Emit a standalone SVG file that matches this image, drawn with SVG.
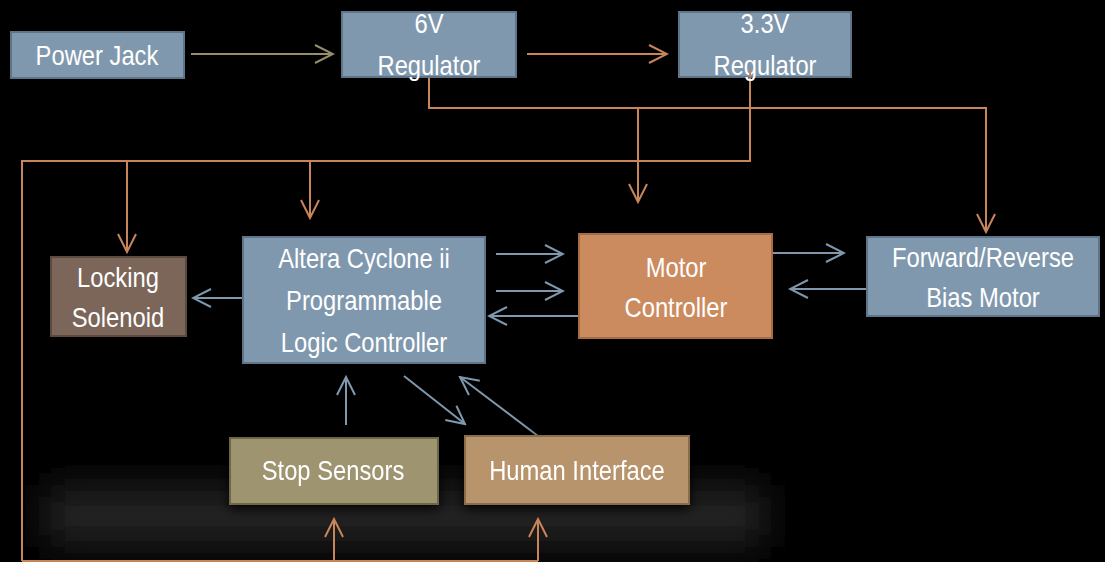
<svg xmlns="http://www.w3.org/2000/svg" width="1105" height="562" viewBox="0 0 1105 562">
  <defs>
    <style>
      .t { font-family: "Liberation Sans", Arial, sans-serif; font-size: 27px; fill: #ffffff; text-anchor: middle; }
      .blue { fill: #7f98ae; stroke: #5d7489; stroke-width: 2; }
      .c-ol { fill: none; stroke: #978c6b; stroke-width: 2; }
      .c-or { fill: none; stroke: #c8855a; stroke-width: 2; }
      .c-bl { fill: none; stroke: #7f98ad; stroke-width: 2; }
    </style>
    <marker id="mOl" markerUnits="userSpaceOnUse" viewBox="-20 -11 22 22" refX="0" refY="0" markerWidth="22" markerHeight="22" orient="auto">
      <path d="M-18,-9 L0,0 L-18,9" fill="none" stroke="#978c6b" stroke-width="2"/>
    </marker>
    <marker id="mOr" markerUnits="userSpaceOnUse" viewBox="-20 -11 22 22" refX="0" refY="0" markerWidth="22" markerHeight="22" orient="auto">
      <path d="M-18,-9 L0,0 L-18,9" fill="none" stroke="#c8855a" stroke-width="2"/>
    </marker>
    <marker id="mBl" markerUnits="userSpaceOnUse" viewBox="-20 -11 22 22" refX="0" refY="0" markerWidth="22" markerHeight="22" orient="auto">
      <path d="M-18,-9 L0,0 L-18,9" fill="none" stroke="#7f98ad" stroke-width="2"/>
    </marker>
    <filter id="blur" x="-20%" y="-60%" width="140%" height="220%">
      <feGaussianBlur stdDeviation="18"/>
    </filter>
    <filter id="sh" x="-20%" y="-30%" width="140%" height="170%">
      <feDropShadow dx="0" dy="4" stdDeviation="6" flood-color="#000" flood-opacity="0.9"/>
    </filter>
  </defs>

  <rect x="0" y="0" width="1105" height="562" fill="#000000"/>
  <rect x="45" y="485" width="720" height="62" fill="#222222" filter="url(#blur)"/>

  <g id="connectors">
    <path class="c-ol" d="M191,54 H333" marker-end="url(#mOl)"/>
    <path class="c-or" d="M527,54 H667" marker-end="url(#mOr)"/>
    <path class="c-or" d="M429,77 V108 H986 V232" marker-end="url(#mOr)"/>
    <path class="c-or" d="M638,108 V202" marker-end="url(#mOr)"/>
    <path class="c-or" d="M22,561 V161 H750 V77"/>
    <path class="c-or" d="M22,561 H538"/>
    <path class="c-or" d="M127,161 V252" marker-end="url(#mOr)"/>
    <path class="c-or" d="M310,161 V218" marker-end="url(#mOr)"/>
    <path class="c-or" d="M334,561 V519" marker-end="url(#mOr)"/>
    <path class="c-or" d="M538,561 V519" marker-end="url(#mOr)"/>
    <path class="c-bl" d="M243,298 H193" marker-end="url(#mBl)"/>
    <path class="c-bl" d="M496,254 H563" marker-end="url(#mBl)"/>
    <path class="c-bl" d="M496,291 H563" marker-end="url(#mBl)"/>
    <path class="c-bl" d="M579,316 H489" marker-end="url(#mBl)"/>
    <path class="c-bl" d="M772,253 H844" marker-end="url(#mBl)"/>
    <path class="c-bl" d="M867,289 H790" marker-end="url(#mBl)"/>
    <path class="c-bl" d="M346,425 V377" marker-end="url(#mBl)"/>
    <path class="c-bl" d="M404,376 L465,424" marker-end="url(#mBl)"/>
    <path class="c-bl" d="M538,436 L460,377" marker-end="url(#mBl)"/>
  </g>

  <g id="power-jack">
    <rect class="blue" x="11" y="32" width="173" height="46"/>
    <text class="t" transform="translate(97,65) scale(0.88,1)">Power Jack</text>
  </g>
  <g id="reg-6v">
    <rect class="blue" x="342" y="12" width="174" height="65"/>
    <text class="t" transform="translate(429,33) scale(0.88,1)">6V</text>
    <text class="t" transform="translate(429,75) scale(0.88,1)">Regulator</text>
  </g>
  <g id="reg-3v3">
    <rect class="blue" x="679" y="12" width="172" height="65"/>
    <text class="t" transform="translate(765,33) scale(0.88,1)">3.3V</text>
    <text class="t" transform="translate(765,75) scale(0.88,1)">Regulator</text>
  </g>
  <path class="c-or" d="M750,70 V77"/>
  <g id="locking-solenoid">
    <rect x="51" y="257" width="135" height="79" fill="#7b6659" stroke="#5a4a40" stroke-width="2"/>
    <text class="t" transform="translate(118,287) scale(0.88,1)">Locking</text>
    <text class="t" transform="translate(118,327) scale(0.88,1)">Solenoid</text>
  </g>
  <g id="altera">
    <rect class="blue" x="243" y="237" width="242" height="126"/>
    <text class="t" transform="translate(364,268) scale(0.88,1)">Altera Cyclone ii</text>
    <text class="t" transform="translate(364,310) scale(0.88,1)">Programmable</text>
    <text class="t" transform="translate(364,352) scale(0.88,1)">Logic Controller</text>
  </g>
  <g id="motor-controller">
    <rect x="579" y="234" width="193" height="104" fill="#cc8b5f" stroke="#a86c44" stroke-width="2"/>
    <text class="t" transform="translate(676,277) scale(0.88,1)">Motor</text>
    <text class="t" transform="translate(676,317) scale(0.88,1)">Controller</text>
  </g>
  <g id="bias-motor">
    <rect class="blue" x="867" y="237" width="232" height="79"/>
    <text class="t" transform="translate(983,267) scale(0.88,1)">Forward/Reverse</text>
    <text class="t" transform="translate(983,307) scale(0.88,1)">Bias Motor</text>
  </g>
  <g id="stop-sensors" filter="url(#sh)">
    <rect x="230" y="438" width="208" height="66" fill="#9f946f" stroke="#6e6648" stroke-width="2"/>
    <text class="t" transform="translate(333,480) scale(0.88,1)">Stop Sensors</text>
  </g>
  <g id="human-interface" filter="url(#sh)">
    <rect x="465" y="436" width="224" height="68" fill="#b8946c" stroke="#8a6c4a" stroke-width="2"/>
    <text class="t" transform="translate(577,480) scale(0.88,1)">Human Interface</text>
  </g>
</svg>
